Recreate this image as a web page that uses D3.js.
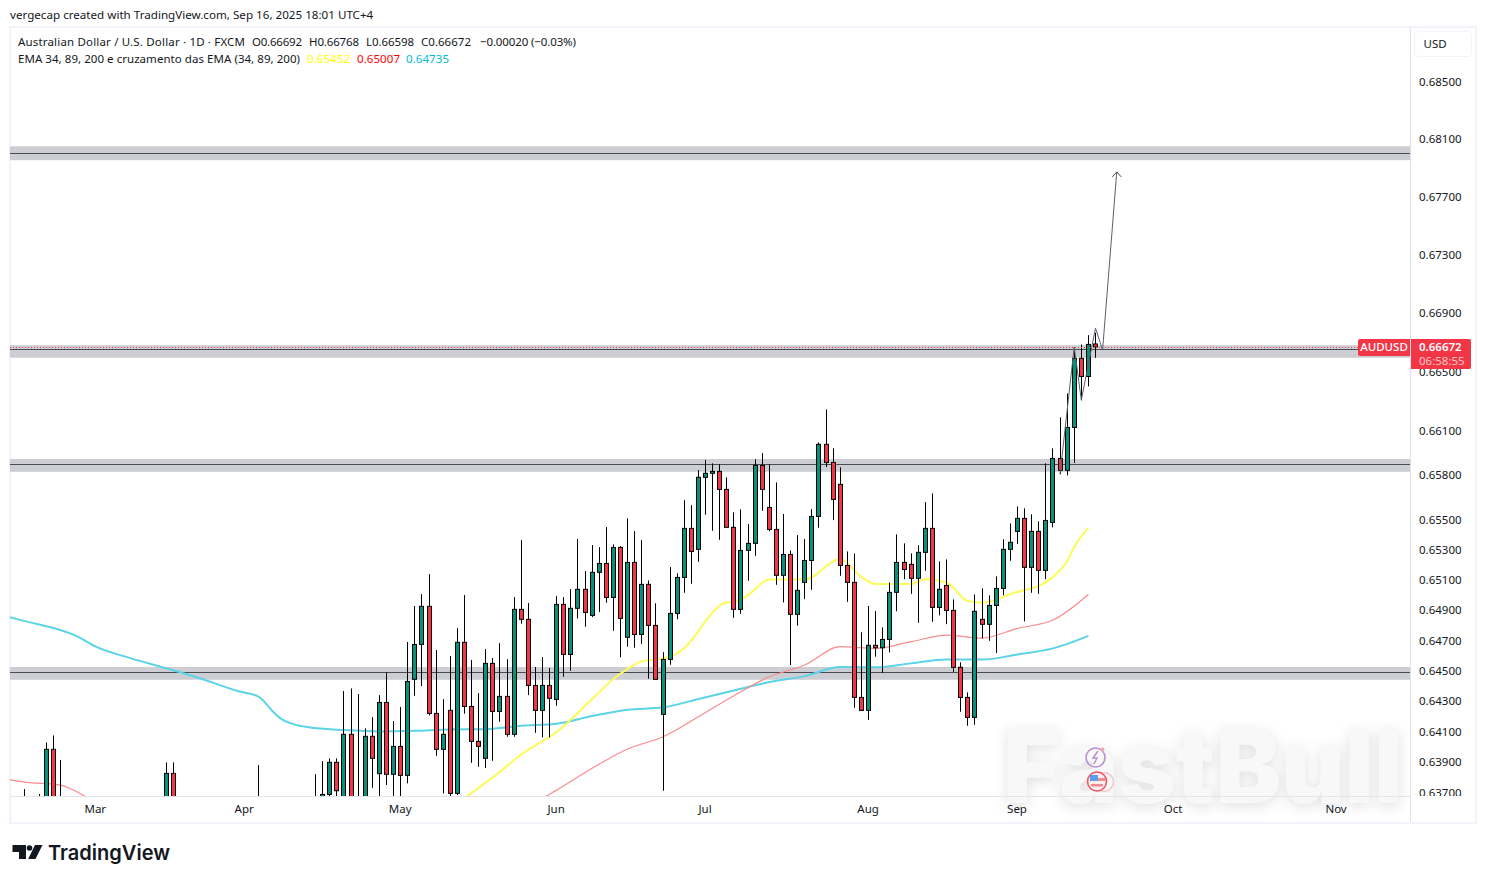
<!DOCTYPE html>
<html>
<head>
<meta charset="utf-8">
<title>AUDUSD</title>
<script src="https://cdnjs.cloudflare.com/ajax/libs/d3/7.8.5/d3.min.js"></script>
<style>
    html, body { margin: 0; padding: 0; background: #fff; overflow: hidden; }
    svg { display: block; font-family: "Noto Sans", sans-serif; }
    .axis path, .axis line { display: none; }
    .axis text { font-family: "Noto Sans", sans-serif; font-size: 11.5px; fill: #131722; }
</style>
</head>
<body>
<svg id="chart" width="1486" height="883"></svg>
<script>
(function () {
    'use strict';

    // visible sessions before the unbroken run; the run starts on runStart
    var earlyDates = ['2025-02-17', '2025-02-19', '2025-02-20', '2025-02-21', '2025-02-24', '2025-03-17', '2025-03-18', '2025-04-03'];
    var runStart = '2025-04-15', runEnd = '2025-09-16';

    var opens = [.6362, .6364, .6363, .63988, .6366, .6362, .63831, .6366,
        .6366, .6364, .63694, .63903, .6364, .64086, .6366, .6360, .64073, .63829, .64295, .63825, .64007, .63818,
        .64447, .64677, .64929, .64223, .63988, .64243, .63701, .64691, .64269, .6404, .63929, .64552, .64236, .64335,
        .64086, .64909, .64843, .64407, .64243, .64407, .64315, .64942, .64611, .64916, .65042, .64869, .65155, .65214,
        .64988, .65321, .64724, .65221, .64743, .65075, .64803, .64217, .64578, .64882, .65121, .65448, .65308, .6579,
        .65817, .6583, .65709, .65455, .64909, .65301, .65348, .6587, .65588, .65441, .65135, .65274, .64876, .65088,
        .65234, .65528, .66012, .6589, .65743, .65201, .65088, .64328, .64243, .64671, .64655, .6471, .65022, .65221,
        .65208, .65115, .65288, .65448, .64922, .65068, .64902, .64526, .64328, .64197, .64843, .6481, .64935, .65048,
        .65308, .65428, .65515, .65188, .65428, .65168, .65488, .65917, .65837, .66126, .66594, .66471, .66692];
    var highs = [.63729, .63696, .64033, .64079, .63918, .63903, .63903, .63885,
        .63826, .63911, .63929, .63929, .6437, .64387, .6435, .64125, .64199, .64343, .64493, .64173, .64265, .64693,
        .64931, .6501, .65143, .6464, .64317, .646, .64785, .65004, .64574, .64357, .64646, .64587, .64686, .6458,
        .6499, .6537, .64951, .64528, .64594, .64521, .64997, .6499, .65043, .65377, .65163, .65336, .65323, .65457,
        .65341, .6533, .65515, .6543, .6537, .65101, .64949, .64626, .6519, .65148, .65637, .65604, .65839, .65906,
        .65884, .65877, .6579, .65555, .65575, .65477, .65911, .65953, .65877, .65756, .65544, .65301, .65403, .65377,
        .65577, .66025, .66248, .65985, .65857, .65294, .65281, .64757, .64931, .64898, .6479, .65088, .65408, .65348,
        .65281, .65336, .65624, .65682, .65228, .65241, .64975, .64559, .64361, .65008, .65048, .65002, .65128, .65375,
        .65481, .65595, .65582, .65542, .65495, .65884, .65985, .66194, .66356, .66669, .66689, .66752, .66768];
    var lows = [.6354, .6357, .6358, .6356, .6355, .6357, .6356, .6352,
        .6355, .6357, .6365, .6366, .6360, .6360, .6358, .6355, .63737, .6366, .63755, .6366, .6366, .63766,
        .64339, .64403, .6421, .63946, .63701, .6367, .6369, .64221, .639, .63874, .63866, .63913, .64168, .6407,
        .6407, .64814, .64343, .64096, .64066, .64066, .64273, .64464, .64503, .64849, .64794, .64858, .64891, .64953,
        .64767, .64592, .64662, .64655, .64679, .64451, .64445, .63718, .64543, .64843, .65019, .65079, .65225, .65539,
        .65432, .65372, .65455, .64853, .6488, .65099, .65265, .65566, .65428, .65072, .64955, .64541, .64801, .64977,
        .65039, .65452, .65859, .65503, .65132, .64959, .6426, .6424, .64181, .64596, .6449, .64624, .64896, .65109,
        .65012, .6482, .65165, .64827, .64869, .64811, .64495, .64234, .64142, .64149, .64717, .64701, .6462, .65002,
        .65232, .65345, .64829, .65019, .65012, .65109, .65455, .6581, .65803, .65886, .66309, .66404, .66598];
    var closes = [.6360, .6362, .63988, .6362, .6362, .63831, .6362, .6360,
        .6362, .63694, .63903, .63718, .64086, .6364, .6362, .64073, .63929, .64295, .63825, .64007, .63818, .64433,
        .64677, .64929, .64223, .63988, .64086, .63701, .64691, .64269, .6404, .64007, .64552, .64236, .64335, .64086,
        .64909, .64843, .64407, .64243, .64407, .64322, .64942, .64611, .64916, .65042, .64889, .65155, .65214, .64988,
        .65321, .64849, .65221, .64743, .65075, .64803, .64447, .64578, .64882, .65121, .65448, .65294, .6579, .65817,
        .6583, .65709, .65455, .64909, .65301, .65348, .6587, .65709, .65441, .65135, .65274, .64876, .65035, .65234,
        .65528, .66012, .6589, .65642, .65201, .65088, .64328, .64243, .64671, .64655, .6471, .65022, .65221, .65174,
        .65115, .65288, .65448, .64922, .65042, .64902, .64526, .64328, .64197, .64896, .6481, .64935, .65048, .65308,
        .65355, .65515, .65188, .65428, .65168, .65501, .65917, .65837, .66126, .66594, .66471, .66689, .66672];

    var ema200 = [.64891, .64831, .64772, .64662, .64585, .64519, .64449, .6437, .64234, .64132, .64114, .64105, .64109, .64118, .6412, .64142, .64156,
        .64206, .64247, .64263, .64317, .64374, .64429, .64468, .64528, .64526, .64552, .64578, .64577, .64611, .64651, .64734];
    var ema89 = [.63814, .63774, .63755, .63648, .6358, .6350, .6342, .6335, .6330, .6325, .6323, .6325, .6330, .6340, .6350, .63592, .63722,
        .63864, .6399, .6407, .64201, .64339, .64464, .64541, .64662, .64651, .64695, .64739, .64719, .64783, .64838, .65008];
    var ema34 = [null, null, null, null, null, null, null, null, null, null, null, null, null, .6360, .63771, .63954, .64101,
        .64317, .64516, .64584, .64765, .64957, .65107, .65107, .65243, .65077, .65077, .65087, .64953, .65026, .65123, .65453];

    // extra readings where a line bends between two Mondays
    var ema200ExtraDates = ['2025-02-26', '2025-04-03', '2025-04-08', '2025-04-10'];
    var ema200Extra = [.64739, .64332, .64192, .64151];
    var ema34ExtraDates = ['2025-05-21', '2025-06-12', '2025-06-18', '2025-06-25', '2025-06-27', '2025-07-01', '2025-07-04', '2025-07-09',
        '2025-07-31', '2025-08-13', '2025-08-21', '2025-09-04', '2025-09-10', '2025-09-11'];
    var ema34Extra = [.63841, .64449, .64565, .64618, .64701, .64831, .64955, .65004, .65123, .65109, .64964, .65065, .6523, .65323];

    var priceTicks = [.685, .681, .677, .673, .669, .665, .661, .658, .655, .653, .651, .649, .647, .645, .643, .641, .639, .637];
    var monthDates = ['2025-03-03', '2025-04-01', '2025-05-01', '2025-06-02', '2025-07-01', '2025-08-01', '2025-09-01', '2025-10-01', '2025-11-03'];
    var monthLabels = ['Mar', 'Apr', 'May', 'Jun', 'Jul', 'Aug', 'Sep', 'Oct', 'Nov'];

    // support / resistance boxes: top, bottom and middle line
    var zoneTops = [.68052, .66684, .65913, .64528];
    var zoneBottoms = [.67955, .66598, .65827, .64444];
    var zoneLines = [.68008, .66655, .65877, .64493];

    // hand drawn path with arrow on the end
    var pathDates = ['2025-09-09', '2025-09-11', '2025-09-12', '2025-09-16', '2025-09-17', '2025-09-19'];
    var pathPrices = [.65812, .66671, .66311, .668, .6665, .67874];

    var lastPrice = .66672;

    var parse = d3.utcParse('%Y-%m-%d'), fmt = d3.utcFormat('%Y-%m-%d');
    var isWeekday = function (d) { return d.getUTCDay() > 0 && d.getUTCDay() < 6; };

    var sessions = d3.utcDays(parse('2025-02-10'), parse('2025-11-04')).filter(isWeekday).map(fmt);
    var run = d3.utcDays(parse(runStart), d3.utcDay.offset(parse(runEnd), 1)).filter(isWeekday).map(fmt);
    var candleDates = earlyDates.concat(run);
    var mondays = d3.utcMondays(parse('2025-02-10'), parse('2025-09-16')).map(fmt);

    var x = d3.scalePoint().domain(sessions).range([-10.55, 1336.55]);
    var y = d3.scaleLog().domain([.637, .685]).range([793.5, 82]);

    var plot = { left: 10, right: 1410, top: 28, bottom: 796 };
    var green = '#08917a', red = '#f23645';

    var candles = candleDates.map(function (d, i) {
        return { date: d, o: opens[i], h: highs[i], l: lows[i], c: closes[i] };
    });

    // merge the weekly readings with the extra ones, in date order
    var emaPoints = function (values, extraDates, extraValues) {
        var pts = [];
        values.forEach(function (v, i) { if (v !== null) pts.push({ date: mondays[i], v: v }); });
        extraDates.forEach(function (d, i) { pts.push({ date: d, v: extraValues[i] }); });
        return pts.sort(function (a, b) { return d3.ascending(a.date, b.date); });
    };

    var svg = d3.select('#chart');
    var defs = svg.append('defs');
    defs.append('clipPath').attr('id', 'plot-clip').append('rect')
        .attr('x', plot.left).attr('y', plot.top)
        .attr('width', plot.right - plot.left).attr('height', plot.bottom - plot.top);
    defs.append('clipPath').attr('id', 'price-clip').append('rect')
        .attr('x', plot.right).attr('y', plot.top)
        .attr('width', 66).attr('height', plot.bottom - plot.top);

    // frame
    svg.append('rect').attr('x', 10).attr('y', 27).attr('width', 1466).attr('height', 796)
        .attr('fill', '#fff').attr('stroke', '#f0f3fa').attr('stroke-width', 2);

    // watermark
    var mark = svg.append('g');
    mark.append('text').attr('x', 1003).attr('y', 803)
        .attr('textLength', 400).attr('lengthAdjust', 'spacingAndGlyphs')
        .style('font-family', 'Inter, sans-serif').style('font-weight', 900).style('font-size', '102px')
        .style('fill', '#f8f8f8').style('filter', 'drop-shadow(0 3px 7px rgba(0,0,0,.12))')
        .text('FastBull');
    mark.append('circle').attr('cx', 1095.5).attr('cy', 757.5).attr('r', 9.5)
        .attr('fill', 'none').attr('stroke', '#b98fd0').attr('stroke-width', 1.6);
    mark.append('path').attr('d', 'M1098 751l-5 7h4l-3 6').attr('fill', 'none').attr('stroke', '#b98fd0').attr('stroke-width', 1.4);
    mark.append('circle').attr('cx', 1102.5).attr('cy', 749.5).attr('r', 2).attr('fill', '#f3a6b0');
    mark.append('circle').attr('cx', 1104).attr('cy', 782).attr('r', 9.5)
        .attr('fill', 'none').attr('stroke', '#f6c3c9').attr('stroke-width', 1.4);
    mark.append('circle').attr('cx', 1097).attr('cy', 781.5).attr('r', 9.5)
        .attr('fill', '#fdeef0').attr('stroke', '#ee5566').attr('stroke-width', 1.6);
    mark.append('rect').attr('x', 1090).attr('y', 775).attr('width', 8).attr('height', 6).attr('fill', '#5a9fe8');
    mark.append('rect').attr('x', 1098).attr('y', 778).attr('width', 7).attr('height', 3).attr('fill', '#f08a94');
    mark.append('rect').attr('x', 1091).attr('y', 784).attr('width', 12).attr('height', 2.5).attr('fill', '#f08a94');

    // axis borders
    svg.append('line').attr('x1', plot.right + .5).attr('x2', plot.right + .5).attr('y1', 28).attr('y2', 822).attr('stroke', '#e0e3eb');
    svg.append('line').attr('x1', 10).attr('x2', plot.right).attr('y1', 796.5).attr('y2', 796.5).attr('stroke', '#e0e3eb');

    var chart = svg.append('g').attr('clip-path', 'url(#plot-clip)');

    var zones = chart.selectAll('g.zone').data(zoneTops).enter().append('g').attr('class', 'zone');
    zones.append('rect')
        .attr('x', plot.left).attr('width', plot.right - plot.left)
        .attr('y', function (d) { return y(d); })
        .attr('height', function (d, i) { return y(zoneBottoms[i]) - y(d); })
        .attr('fill', '#cdced3');
    zones.append('line')
        .attr('x1', plot.left).attr('x2', plot.right)
        .attr('y1', function (d, i) { return Math.round(y(zoneLines[i])) + .5; })
        .attr('y2', function (d, i) { return Math.round(y(zoneLines[i])) + .5; })
        .attr('stroke', '#4a4c54').attr('stroke-width', 1);

    var emaLine = d3.line()
        .x(function (d) { return x(d.date); })
        .y(function (d) { return y(d.v); })
        .curve(d3.curveMonotoneX);

    chart.append('path').datum(emaPoints(ema200, ema200ExtraDates, ema200Extra)).attr('d', emaLine)
        .attr('fill', 'none').attr('stroke', '#5ad4e6').attr('stroke-width', 2);
    chart.append('path').datum(emaPoints(ema89, [], [])).attr('d', emaLine)
        .attr('fill', 'none').attr('stroke', '#f98b8f').attr('stroke-width', 1.2);
    chart.append('path').datum(emaPoints(ema34, ema34ExtraDates, ema34Extra)).attr('d', emaLine)
        .attr('fill', 'none').attr('stroke', '#fdfb57').attr('stroke-width', 2);

    var cx = function (d) { return Math.round(x(d.date) - .5) + .5; };
    var gEl = chart.selectAll('g.candle').data(candles).enter().append('g').attr('class', 'candle');
    gEl.append('line')
        .attr('x1', cx).attr('x2', cx)
        .attr('y1', function (d) { return y(d.h); })
        .attr('y2', function (d) { return y(d.l); })
        .attr('stroke', '#000').attr('stroke-width', 1);
    gEl.append('rect')
        .attr('x', function (d) { return cx(d) - 2; })
        .attr('width', 4)
        .attr('y', function (d) { return y(Math.max(d.o, d.c)); })
        .attr('height', function (d) { return Math.abs(y(d.o) - y(d.c)); })
        .attr('fill', function (d) { return d.c >= d.o ? green : red; })
        .attr('stroke', '#000').attr('stroke-width', 1);

    // last price dotted line
    var lastY = Math.round(y(lastPrice)) + .5;
    chart.append('line')
        .attr('x1', plot.left).attr('x2', plot.right)
        .attr('y1', lastY).attr('y2', lastY)
        .attr('stroke', red).attr('stroke-width', 1).attr('stroke-dasharray', '1 2');

    // drawn path
    var pathLine = d3.line()
        .x(function (d) { return x(d); })
        .y(function (d, i) { return y(pathPrices[i]); });
    chart.append('path').datum(pathDates).attr('d', pathLine)
        .attr('fill', 'none').attr('stroke', '#5d606b').attr('stroke-width', 1);
    var tipX = x(pathDates[5]), tipY = y(pathPrices[5]);
    chart.append('path')
        .attr('d', 'M' + (tipX - 4.5) + ',' + (tipY + 5) + 'L' + tipX + ',' + tipY + 'L' + (tipX + 4.5) + ',' + (tipY + 5))
        .attr('fill', 'none').attr('stroke', '#44464f').attr('stroke-width', 1);

    // axes
    var priceAxis = d3.axisRight(y).tickValues(priceTicks).tickSize(0).tickPadding(0).tickFormat(d3.format('.5f'));
    svg.append('g').attr('class', 'axis').attr('clip-path', 'url(#price-clip)')
        .append('g').attr('transform', 'translate(1419,-0.6)').call(priceAxis);

    var timeAxis = d3.axisBottom(x).tickValues(monthDates).tickSize(0).tickPadding(0)
        .tickFormat(function (d) { return monthLabels[monthDates.indexOf(d)]; });
    svg.append('g').attr('class', 'axis').attr('transform', 'translate(-1,805)').call(timeAxis);

    // USD button
    svg.append('rect').attr('x', 1414.5).attr('y', 31.5).attr('width', 57).attr('height', 25).attr('rx', 4)
        .attr('fill', '#fff').attr('stroke', '#f0f3fa');
    svg.append('text').attr('x', 1423.5).attr('y', 48).style('font-size', '11.5px').style('fill', '#131722').text('USD');

    // last price tags
    var tagY = y(lastPrice);
    svg.append('path')
        .attr('d', 'M1360,' + (tagY - 8) + 'h50v17h-50a2,2 0 0 1 -2,-2v-13a2,2 0 0 1 2,-2z')
        .attr('fill', red);
    svg.append('text').attr('x', 1384).attr('y', tagY + 4.5).attr('text-anchor', 'middle')
        .style('font-size', '11.5px').style('font-weight', 500).style('fill', '#fff').text('AUDUSD');
    svg.append('path')
        .attr('d', 'M1411,' + (tagY - 8) + 'h58a2,2 0 0 1 2,2v26a2,2 0 0 1 -2,2h-58z')
        .attr('fill', red);
    svg.append('text').attr('x', 1419).attr('y', tagY + 4.5)
        .style('font-size', '11.5px').style('font-weight', 600).style('fill', '#fff').text('0.66672');
    svg.append('text').attr('x', 1419).attr('y', tagY + 18.5)
        .style('font-size', '11.5px').style('fill', '#fbc4c9').text('06:58:55');

    // header texts
    svg.append('text').attr('x', 10).attr('y', 19).style('font-size', '11.63px').style('fill', '#131722')
        .text('vergecap created with TradingView.com, Sep 16, 2025 18:01 UTC+4');

    var legendRows = [
        [['Australian Dollar / U.S. Dollar · 1D · FXCM', 18, '#131722', 227], ['O0.66692', 252, '#131722', 50], ['H0.66768', 309, '#131722', 50],
            ['L0.66598', 366, '#131722', 48], ['C0.66672', 421, '#131722', 50], ['−0.00020 (−0.03%)', 480, '#131722', 96]],
        [['EMA 34, 89, 200 e cruzamento das EMA (34, 89, 200)', 18, '#131722', 282], ['0.65452', 307, '#ffff00', 43],
            ['0.65007', 357, '#ff0000', 43], ['0.64735', 406, '#00bcd4', 43]]
    ];
    legendRows.forEach(function (row, r) {
        svg.selectAll(null).data(row).enter().append('text')
            .attr('x', function (d) { return d[1]; })
            .attr('y', 46 + r * 17)
            .attr('textLength', function (d) { return d[3]; })
            .attr('lengthAdjust', 'spacing')
            .style('font-size', '11.5px')
            .style('fill', function (d) { return d[2]; })
            .text(function (d) { return d[0]; });
    });

    // TradingView logo
    var logo = svg.append('g').attr('fill', '#131722');
    logo.append('path').attr('d', 'M12.5,845H26V859H19V852H12.5Z');
    logo.append('circle').attr('cx', 29.5).attr('cy', 848).attr('r', 2.8);
    logo.append('path').attr('d', 'M35,845H42.5L35.5,859H28.2Z');
    logo.append('text').attr('x', 48).attr('y', 860)
        .style('font-family', 'Inter, sans-serif').style('font-size', '20.5px').style('font-weight', 600)
        .attr('textLength', 122).attr('lengthAdjust', 'spacingAndGlyphs')
        .text('TradingView');
})();
</script>
</body>
</html>
